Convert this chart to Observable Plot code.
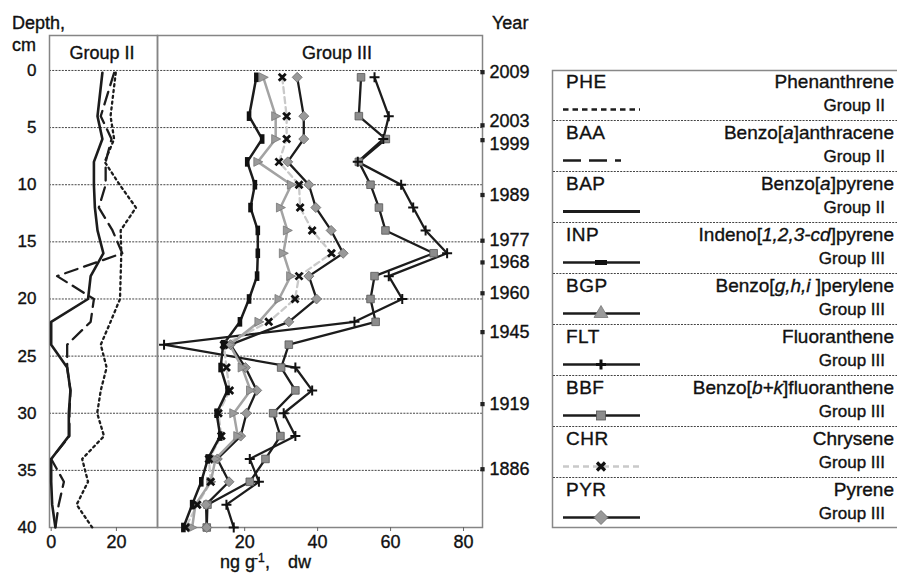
<!DOCTYPE html>
<html><head><meta charset="utf-8">
<script src="https://cdn.jsdelivr.net/npm/d3@7"></script>
<script src="https://cdn.jsdelivr.net/npm/@observablehq/plot@0.6"></script>
<style>
body{margin:0;background:#fff;font-family:"Liberation Sans",Arial,sans-serif;}
#wrap{position:relative;width:897px;height:574px;overflow:hidden;background:#fff;}
#left,#right,#over{position:absolute;top:0;}
#left{left:0;} #right{left:157px;} #over{left:0;pointer-events:none;}
#wrap svg text{stroke:#111;stroke-width:0.35px;}
</style></head><body>
<div id="wrap"><div id="left"></div><div id="right"></div><div id="over"></div></div>
<script>
// ---------- data ----------
const depthTicks = [0, 5, 10, 15, 20, 25, 30, 35, 40];
const gridDepths = [0, 5, 10, 15, 20, 25, 30, 35];
const xTicksII = [0, 20];
const xTicksIII = [20, 40, 60, 80];
const depthsII  = [0.2, 4, 6, 8, 10, 12, 14, 16, 18, 20, 22, 24, 26, 28, 30, 32, 34, 36, 38, 40];
const depthsIII = [0.6, 4, 6, 8, 10, 12, 14, 16, 18, 20, 22, 24, 26, 28, 30, 32, 34, 36, 38, 40];
// Group II (ng/g)
const PHE = [19.8, 18.2, 19.3, 16.4, 21.0, 26.0, 21.3, 21.5, 21.3, 21.1, 18.2, 15.2, 17.0, 15.2, 14.1, 16.2, 9.5, 11.3, 7.8, 12.6];
const BAA = [19.3, 15.2, 18.5, 16.7, 16.7, 14.6, 18.8, 21.8, 1.8, 13.1, 12.1, 4.9, 4.9, 5.9, 5.6, 5.6, 0, 3.9, 2.3, 1.3];
const BAP = [15.7, 14.2, 15.7, 13.1, 13.1, 13.4, 14.2, 16.0, 12.1, 11.3, 0, 0, 4.9, 5.9, 5.4, 5.4, 0, 0, 0.3, 1.3];
// Group III (ng/g)
const INP = [23.2, 21.2, 24.8, 20.7, 22.8, 21.6, 23.6, 23.6, 23.4, 21.2, 18.7, 14.1, 13.4, 15.3, 12.3, 13.3, 9.9, 8.1, 5.6, 3.2];
const BGP = [25.1, 28.5, 28.5, 23.6, 32.8, 29.8, 31.7, 30.6, 32.6, 29.4, 23.9, 15.9, 19.3, 21.6, 17.0, 18.1, 12.0, 10.7, 6.5, 5.6];
const CHR = [30.3, 31.5, 31.5, 29.4, 34.9, 35.2, 38.5, 43.8, 34.9, 33.8, 26.6, 14.3, 15.0, 15.9, 12.8, 13.6, 10.2, 10.7, 7.0, 3.8];
const PYR = [34.4, 36.2, 36.2, 31.8, 37.6, 39.5, 43.7, 47.0, 37.6, 39.7, 32.1, 16.1, 20.2, 23.3, 20.5, 18.9, 12.5, 15.7, 9.4, 9.6];
const BBF = [51.9, 51.3, 58.7, 51.3, 54.5, 56.8, 58.6, 71.8, 55.6, 54.5, 55.9, 32.1, 30.0, 33.9, 27.8, 29.8, 25.7, 21.4, 9.8, 9.6];
const FLT = [55.6, 59.5, 58.0, 51.0, 62.9, 66.2, 69.6, 75.5, 59.5, 63.2, 50.1, -2.1, 33.9, 38.5, 30.7, 33.9, 21.4, 23.9, 15.0, 17.0];
// dating
const years = ["2009", "2003", "1999", "1989", "1977", "1968", "1960", "1945", "1919", "1886"];
const yearDepths = [0.15, 4.8, 6.1, 10.9, 14.9, 16.8, 19.5, 22.9, 29.2, 34.9];
// legend
const legendCodes = ["PHE", "BAA", "BAP", "INP", "BGP", "FLT", "BBF", "CHR", "PYR"];
const legendNames = [
  ["Phenanthrene"], ["Benzo[", "a", "]anthracene"], ["Benzo[", "a", "]pyrene"],
  ["Indeno[", "1,2,3-cd", "]pyrene"], ["Benzo[", "g,h,i ", "]perylene"], ["Fluoranthene"],
  ["Benzo[", "b+k", "]fluoranthene"], ["Chrysene"], ["Pyrene"]];
const legendGroups = ["Group II", "Group II", "Group II", "Group III", "Group III", "Group III", "Group III", "Group III", "Group III"];

// ---------- helpers ----------
const rows = (depths, vals) => depths.map((d, i) => ({d, v: vals[i]}));
const FONT = "Liberation Sans, Arial, sans-serif";
const symVBar = {draw(c){ c.rect(-2.3, -4.8, 4.6, 9.6); }};
const symTriRight = {draw(c){ c.moveTo(-4, -4.5); c.lineTo(5, 0); c.lineTo(-4, 4.5); c.closePath(); }};
const symPlus = {draw(c){ c.moveTo(-5, 0); c.lineTo(5, 0); c.moveTo(0, -5); c.lineTo(0, 5); }};
const symSquare = {draw(c){ c.rect(-3.8, -3.8, 7.6, 7.6); }};
const symX = {draw(c){ c.moveTo(-3.5, -3.5); c.lineTo(3.5, 3.5); c.moveTo(3.5, -3.5); c.lineTo(-3.5, 3.5); }};
const symDiamond = {draw(c){ c.moveTo(0, -5); c.lineTo(5, 0); c.lineTo(0, 5); c.lineTo(-5, 0); c.closePath(); }};
const yDomain = [-3.06, 40];
const style = {background: "transparent", fontFamily: FONT, fontSize: "17px", color: "#111", overflow: "visible"};
const gridMark = Plot.ruleY(gridDepths, {stroke: "#444", strokeWidth: 1, strokeDasharray: "2,1.2"});
const blk = "#1c1c1c";
const yearRows = years.map((y, i) => ({y, d: yearDepths[i]}));
// crowded labels are nudged apart, as in the original figure
const nudgeUp = new Set(["2003"]), nudgeDown = new Set(["1999"]);
const yearText = (filter, dy) => Plot.text(yearRows.filter(filter), {
  y: "d", text: "y", frameAnchor: "right", textAnchor: "start", dx: 7, dy, fontSize: 18, fill: "#111"});

// ---------- left panel (Group II) ----------
const left = Plot.plot({
  width: 157, height: 574, marginLeft: 49, marginRight: 0, marginTop: 35, marginBottom: 47,
  x: {domain: [-0.52, 32.6], label: null},
  y: {domain: yDomain, reverse: true, label: null},
  style,
  marks: [
    gridMark,
    Plot.frame({stroke: "#858585", strokeWidth: 1.5}),
    Plot.axisY({ticks: depthTicks, tickSize: 0, tickPadding: 13, fontSize: 17, label: null}),
    Plot.axisX({ticks: xTicksII, tickSize: 4, tickPadding: 4, fontSize: 18, stroke: "#666", label: null}),
    Plot.line(rows(depthsII, PHE), {x: "v", y: "d", stroke: blk, strokeWidth: 2.3, strokeDasharray: "2.2,3.6", strokeLinecap: "round"}),
    Plot.line(rows(depthsII, BAA), {x: "v", y: "d", stroke: blk, strokeWidth: 2.3, strokeDasharray: "13,7"}),
    Plot.line(rows(depthsII, BAP), {x: "v", y: "d", stroke: blk, strokeWidth: 2.6})
  ]
});
document.getElementById("left").appendChild(left);

// ---------- right panel (Group III) ----------
const right = Plot.plot({
  width: 385, height: 574, marginLeft: 0, marginRight: 60, marginTop: 35, marginBottom: 47,
  x: {domain: [-3.9, 85.2], label: null},
  y: {domain: yDomain, reverse: true, label: null, axis: null},
  style,
  marks: [
    gridMark,
    Plot.frame({stroke: "#858585", strokeWidth: 1.5}),
    Plot.axisX({ticks: xTicksIII, tickSize: 4, tickPadding: 4, fontSize: 18, stroke: "#666", label: null}),
    yearText((r) => !nudgeUp.has(r.y) && !nudgeDown.has(r.y), 0),
    yearText((r) => nudgeUp.has(r.y), -4),
    yearText((r) => nudgeDown.has(r.y), 4),
    Plot.dot(yearRows, {y: "d", frameAnchor: "right", symbol: "square", r: 2.4, fill: "#222", stroke: "none"}),
    Plot.line(rows(depthsIII, BBF), {x: "v", y: "d", stroke: blk, strokeWidth: 2.3}),
    Plot.line(rows(depthsIII, FLT), {x: "v", y: "d", stroke: blk, strokeWidth: 2.3}),
    Plot.line(rows(depthsIII, PYR), {x: "v", y: "d", stroke: blk, strokeWidth: 2.3}),
    Plot.line(rows(depthsIII, CHR), {x: "v", y: "d", stroke: "#c9c9c9", strokeWidth: 2.3, strokeDasharray: "6,4"}),
    Plot.line(rows(depthsIII, BGP), {x: "v", y: "d", stroke: "#a3a3a3", strokeWidth: 2.5}),
    Plot.line(rows(depthsIII, INP), {x: "v", y: "d", stroke: blk, strokeWidth: 2.5}),
    Plot.dot(rows(depthsIII, BBF), {x: "v", y: "d", symbol: symSquare, fill: "#8c8c8c", stroke: "#555", strokeWidth: 0.8}),
    Plot.dot(rows(depthsIII, FLT), {x: "v", y: "d", symbol: symPlus, fill: "none", stroke: "#111", strokeWidth: 2}),
    Plot.dot(rows(depthsIII, PYR), {x: "v", y: "d", symbol: symDiamond, fill: "#999", stroke: "#666", strokeWidth: 0.8}),
    Plot.dot(rows(depthsIII, BGP), {x: "v", y: "d", symbol: symTriRight, fill: "#9a9a9a", stroke: "#777", strokeWidth: 0.8}),
    Plot.dot(rows(depthsIII, CHR), {x: "v", y: "d", symbol: symX, fill: "none", stroke: "#111", strokeWidth: 2.8}),
    Plot.dot(rows(depthsIII, INP), {x: "v", y: "d", symbol: symVBar, fill: "#111", stroke: "none"})
  ]
});
document.getElementById("right").appendChild(right);

// ---------- overlay: titles, units, legend ----------
const T = (x, y, txt, size, anchor = "start", extra = "") =>
  `<text x="${x}" y="${y}" font-size="${size}" text-anchor="${anchor}" ${extra}>${txt}</text>`;
let s = "";
s += T(12, 29, "Depth,", 18);
s += T(12, 51, "cm", 18);
s += T(492, 29, "Year", 18);
s += T(102, 59, "Group II", 18, "middle");
s += T(337, 58.5, "Group III", 18, "middle");
s += `<text y="568" font-size="18"><tspan x="220">ng g</tspan><tspan x="254" y="562" font-size="12">-1</tspan><tspan x="265" y="568">,</tspan><tspan x="288">dw</tspan></text>`;

// legend box
s += `<rect x="552.5" y="70.5" width="360" height="457" fill="none" stroke="#888" stroke-width="1.5"/>`;
for (let i = 0; i < 8; i++) {
  const y = 120.5 + 51 * i;
  s += `<line x1="553" x2="897" y1="${y}" y2="${y}" stroke="#444" stroke-width="1" stroke-dasharray="2,1.2"/>`;
}
legendCodes.forEach((code, i) => {
  const top = 51 * i;
  s += T(566, 88 + top, code, 19, "start", `letter-spacing="0.5"`);
  const nm = legendNames[i];
  const nameHtml = nm.length === 1 ? nm[0] :
    `${nm[0]}<tspan font-style="italic">${nm[1]}</tspan>${nm[2]}`;
  s += T(894, 88 + top, nameHtml, 19, "end");
  s += T(885, 111 + top, legendGroups[i], 17, "end");
  const ly = 109.5 + top, cx = 601;
  const line = (stroke, w, dash = "") =>
    `<line x1="563" x2="640" y1="${ly}" y2="${ly}" stroke="${stroke}" stroke-width="${w}" ${dash ? `stroke-dasharray="${dash}"` : ""}/>`;
  switch (code) {
    case "PHE": s += line(blk, 2.6, "5.5,4"); break;
    case "BAA": s += `<line x1="563" x2="641" y1="${ly}" y2="${ly}" stroke="${blk}" stroke-width="2.6" stroke-dasharray="18,8,18,8,6,100"/>`; break;
    case "BAP": s += line(blk, 2.8); break;
    case "INP": s += line(blk, 2.6) + `<rect x="${cx - 6}" y="${ly - 2.5}" width="12" height="5" fill="#111"/>`; break;
    case "BGP": s += line(blk, 2.6) + `<path d="M${cx},${ly - 8} L${cx + 7},${ly + 4} L${cx - 7},${ly + 4} Z" fill="#9a9a9a" stroke="#777" stroke-width="0.8"/>`; break;
    case "FLT": s += line(blk, 2.6) + `<path d="M${cx - 5},${ly} H${cx + 5} M${cx},${ly - 5} V${ly + 5}" stroke="#111" stroke-width="3"/>`; break;
    case "BBF": s += line(blk, 2.6) + `<rect x="${cx - 4.5}" y="${ly - 4.5}" width="9" height="9" fill="#8c8c8c" stroke="#555" stroke-width="0.8"/>`; break;
    case "CHR": s += line("#c9c9c9", 2.3, "6,4") + `<path d="M${cx - 4},${ly - 4} L${cx + 4},${ly + 4} M${cx + 4},${ly - 4} L${cx - 4},${ly + 4}" stroke="#111" stroke-width="3.2"/>`; break;
    case "PYR": s += line(blk, 2.6) + `<path d="M${cx},${ly - 7} L${cx + 7},${ly} L${cx},${ly + 7} L${cx - 7},${ly} Z" fill="#999" stroke="#666" stroke-width="0.8"/>`; break;
  }
});
document.getElementById("over").innerHTML =
  `<svg width="897" height="574" xmlns="http://www.w3.org/2000/svg" font-family="${FONT}" fill="#111">${s}</svg>`;
</script>
</body></html>
